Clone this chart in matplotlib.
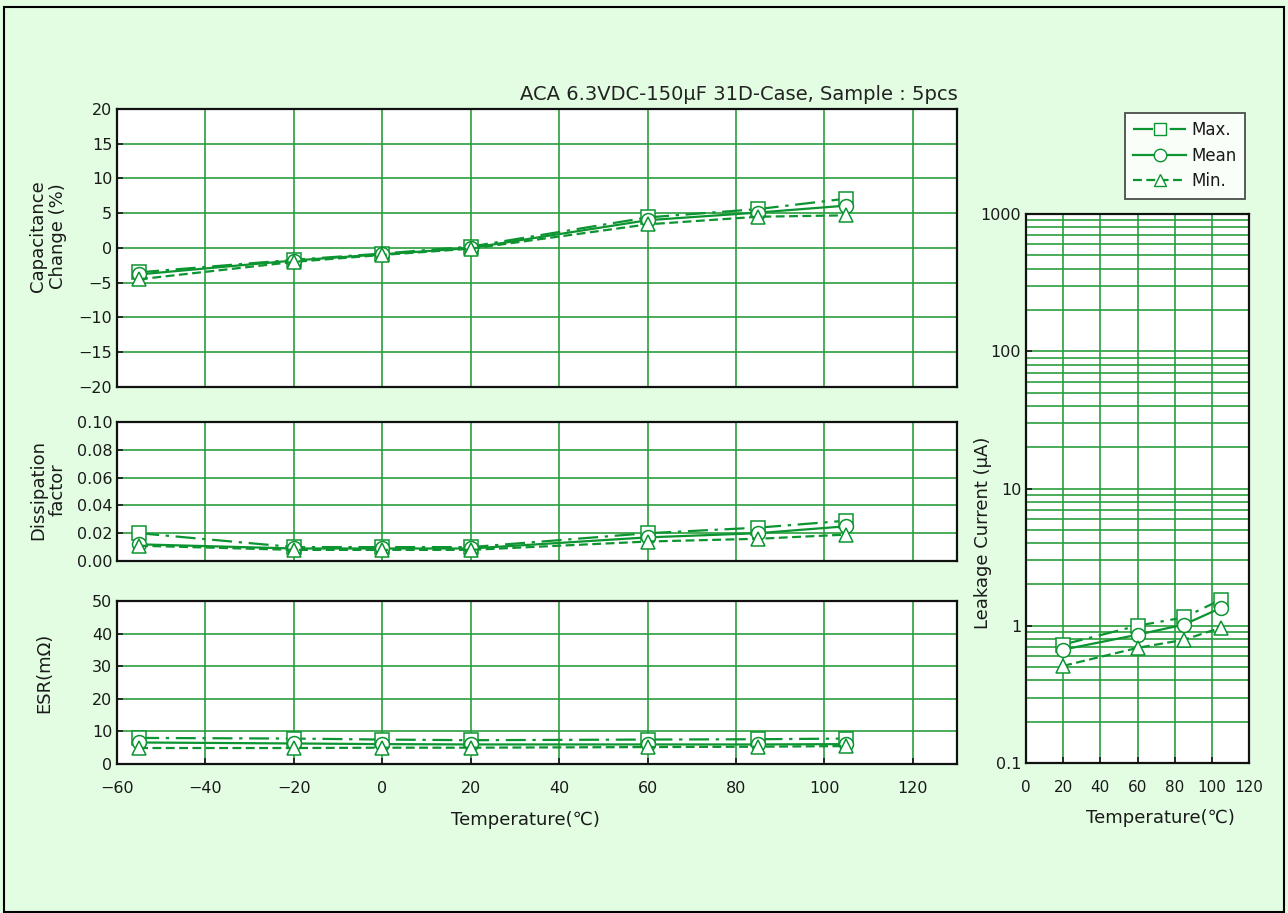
import numpy as np
import matplotlib
matplotlib.use("Agg")
import matplotlib.pyplot as plt
from matplotlib.ticker import LogLocator, FixedLocator, NullFormatter
from matplotlib.lines import Line2D
from matplotlib.patches import Rectangle

plt.rcParams['font.family'] = ['DejaVu Sans', 'Noto Sans CJK JP']

# ---- data ----
temps = [-55, -20, 0, 20, 60, 85, 105]
cap_max = [-3.5, -1.7, -0.8, 0.2, 4.4, 5.6, 7.1]
cap_mean = [-3.8, -1.8, -0.9, 0.0, 4.0, 5.1, 6.1]
cap_min = [-4.5, -2.0, -1.0, -0.1, 3.4, 4.5, 4.7]

df_max = [0.020, 0.010, 0.010, 0.010, 0.020, 0.024, 0.029]
df_mean = [0.012, 0.009, 0.009, 0.009, 0.017, 0.020, 0.025]
df_min = [0.011, 0.008, 0.008, 0.008, 0.014, 0.016, 0.019]

esr_max = [8.0, 7.8, 7.5, 7.3, 7.5, 7.6, 7.8]
esr_mean = [6.6, 6.3, 6.1, 6.0, 6.0, 6.0, 6.1]
esr_min = [4.9, 4.9, 5.0, 5.0, 5.2, 5.3, 5.5]

lc_temps = [20, 60, 85, 105]
lc_max = [0.73, 1.0, 1.15, 1.55]
lc_mean = [0.67, 0.86, 1.02, 1.35]
lc_min = [0.51, 0.69, 0.79, 0.97]

title = "ACA 6.3VDC-150μF 31D-Case, Sample : 5pcs"

W, H = 1288, 913
fig = plt.figure(figsize=(W / 100, H / 100), dpi=100)
fig.patch.set_facecolor('#e2fde2')
fig.patches.append(Rectangle((4 / W, 1 / H), 1280 / W, 905 / H, transform=fig.transFigure,
                             fill=False, edgecolor='black', linewidth=1.5))

GREEN = '#0b9430'
GRID = '#2a9f3e'
TXT = '#1a1a1a'
dash_max = (0, (9, 3, 1.5, 3))
dash_min = (0, (4, 2))


def px_axes(x0, y0, x1, y1):
    return fig.add_axes([x0 / W, 1 - y1 / H, (x1 - x0) / W, (y1 - y0) / H])


def ftext(x, y, s, **kw):
    # place text in pixel coordinates of the reference picture
    return fig.text(x / W, 1 - y / H, s, ha='center', va='center', fontsize=13, color=TXT, **kw)


def style(ax):
    ax.set_facecolor('white')
    for s in ax.spines.values():
        s.set_linewidth(1.6)
        s.set_color('#111111')
    ax.grid(True, color=GRID, linewidth=1.2)
    ax.set_axisbelow(True)
    ax.tick_params(direction='in', length=4, width=1.2, labelsize=11.5, colors=TXT)


def series(ax, x, ymax, ymean, ymin):
    kw = dict(color=GREEN, markerfacecolor='white', markeredgecolor=GREEN,
              markeredgewidth=1.1, markersize=10, lw=1.6, clip_on=False)
    ax.plot(x, ymax, marker='s', linestyle=dash_max, **kw)
    ax.plot(x, ymean, marker='o', linestyle='-', **kw)
    ax.plot(x, ymin, marker='^', linestyle=dash_min, **kw)


# capacitance change
ax1 = px_axes(117, 109, 957, 387)
style(ax1)
series(ax1, temps, cap_max, cap_mean, cap_min)
ax1.set_xlim(-60, 130)
ax1.set_ylim(-20, 20)
ax1.set_xticks(range(-60, 121, 20))
ax1.set_yticks(range(-20, 21, 5))
ax1.tick_params(axis='x', labelbottom=False, length=0)
ftext(48, 236, "Capacitance\nChange (%)", rotation=90, linespacing=1.1)

# dissipation factor
ax2 = px_axes(117, 422, 957, 561)
style(ax2)
series(ax2, temps, df_max, df_mean, df_min)
ax2.set_xlim(-60, 130)
ax2.set_ylim(0, 0.1)
ax2.set_xticks(range(-60, 121, 20))
ax2.set_yticks(np.arange(0, 0.101, 0.02))
ax2.set_yticklabels(["0.00", "0.02", "0.04", "0.06", "0.08", "0.10"])
ax2.tick_params(axis='x', labelbottom=False, length=0)
ftext(48, 490, "Dissipation\nfactor", rotation=90, linespacing=1.1)

# ESR
ax3 = px_axes(117, 601, 957, 764)
style(ax3)
series(ax3, temps, esr_max, esr_mean, esr_min)
ax3.set_xlim(-60, 130)
ax3.set_ylim(0, 50)
ax3.set_xticks(range(-60, 121, 20))
ax3.set_xticklabels(["−60", "−40", "−20", "0", "20", "40", "60", "80", "100", "120"])
ax3.set_yticks(range(0, 51, 10))
ax3.tick_params(axis='x', pad=12)
ftext(44, 673, "ESR(mΩ)", rotation=90)
ftext(525, 820, "Temperature(℃)")

# leakage current
ax4 = px_axes(1026, 214, 1249, 763)
style(ax4)
series(ax4, lc_temps, lc_max, lc_mean, lc_min)
ax4.set_yscale('log')
ax4.set_xlim(0, 120)
ax4.set_ylim(0.1, 1000)
ax4.set_xticks(range(0, 121, 20))
ax4.yaxis.set_major_locator(FixedLocator([0.1, 1, 10, 100, 1000]))
ax4.set_yticklabels(["0.1", "1", "10", "100", "1000"])
ax4.yaxis.set_minor_locator(LogLocator(base=10, subs=np.arange(2, 10)))
ax4.yaxis.set_minor_formatter(NullFormatter())
ax4.grid(True, which='minor', axis='y', color=GRID, linewidth=1.2)
ax4.tick_params(axis='y', which='minor', length=0)
ax4.tick_params(axis='x', pad=12, labelsize=11)
ftext(983, 533, "Leakage Current (μA)", rotation=90)
ftext(1160, 818, "Temperature(℃)")

# title
fig.text(958 / W, 1 - 95 / H, title, ha='right', va='center', fontsize=14, color='#222222')

# legend
handles = [
    Line2D([], [], color=GREEN, marker='s', linestyle=dash_max, markerfacecolor='white', markersize=9, lw=1.6),
    Line2D([], [], color=GREEN, marker='o', linestyle='-', markerfacecolor='white', markersize=9, lw=1.6),
    Line2D([], [], color=GREEN, marker='^', linestyle=dash_min, markerfacecolor='white', markersize=9, lw=1.6),
]
leg = fig.legend(handles, ["Max.", "Mean", "Min."], loc='upper right',
                 bbox_to_anchor=(1245 / W, 1 - 113 / H), fontsize=12, frameon=True,
                 fancybox=False, edgecolor='#222222', handlelength=3.2, handletextpad=0.3,
                 labelspacing=0.45, borderpad=0.5, borderaxespad=0)
leg.get_frame().set_linewidth(1.3)
for t in leg.get_texts():
    t.set_color(TXT)

fig.savefig("out.png", dpi=100, facecolor=fig.get_facecolor())
